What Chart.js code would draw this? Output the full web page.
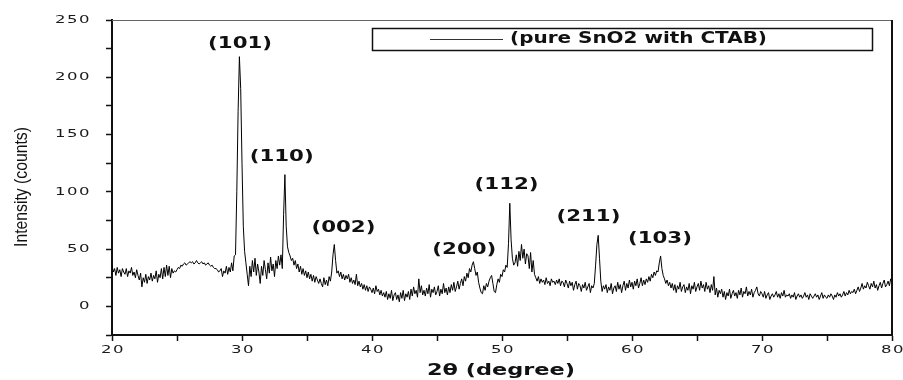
<!DOCTYPE html>
<html>
<head>
<meta charset="utf-8">
<title>XRD pattern</title>
<script src="https://cdn.jsdelivr.net/npm/chart.js@4.4.1/dist/chart.umd.min.js"></script>
<style>
  html, body { margin: 0; padding: 0; background: #fff; }
</style>
</head>
<body>
<canvas id="xrd" width="903" height="380"></canvas>
<script>
// scan: 20..80 deg, 0.1 deg step
const startAngle = 20;
const stepAngle = 0.1;
const intensity = [
  36, 30, 33, 27, 34, 29, 32, 26, 33, 30,   // 20
  28, 33, 26, 31, 29, 34, 27, 30, 25, 32,   // 21
  27, 23, 29, 17, 25, 21, 28, 20, 26, 23,   // 22
  29, 22, 27, 24, 31, 21, 28, 25, 33, 24,   // 23
  34, 26, 36, 27, 35, 25, 33, 29, 31, 30,   // 24
  32, 34, 33, 36, 35, 37, 38, 36, 37, 38,   // 25
  39, 38, 39, 37, 38, 40, 38, 37, 38, 39,   // 26
  37, 38, 36, 37, 38, 36, 35, 36, 34, 33,   // 27
  33, 32, 30, 31, 33, 26, 31, 29, 35, 28,   // 28
  34, 30, 38, 31, 44, 45, 100, 170, 218, 190, // 29
  125, 70, 48, 38, 28, 18, 35, 26, 40, 30,  // 30
  42, 27, 37, 30, 20, 35, 27, 40, 32, 24,   // 31
  38, 29, 43, 31, 37, 26, 40, 33, 44, 36,   // 32
  45, 33, 80, 115, 70, 52, 47, 44, 40, 42,  // 33
  36, 40, 33, 37, 30, 35, 28, 33, 27, 31,   // 34
  25, 30, 24, 28, 22, 27, 21, 26, 23, 20,   // 35
  24, 20, 17, 25, 19, 23, 18, 26, 22, 30,   // 36
  45, 54, 40, 29, 31, 26, 30, 24, 28, 23,   // 37
  27, 24, 28, 21, 25, 20, 23, 19, 28, 18,   // 38
  22, 17, 20, 15, 19, 14, 18, 13, 17, 15,   // 39
  12, 16, 11, 18, 13, 15, 10, 14, 9, 12,    // 40
  8, 13, 6, 11, 7, 14, 5, 10, 12, 6,        // 41
  10, 4, 12, 7, 14, 5, 11, 8, 13, 6,        // 42
  15, 9, 17, 11, 14, 8, 24, 12, 18, 10,     // 43
  14, 9, 16, 11, 19, 8, 15, 12, 17, 10,     // 44
  13, 18, 9, 15, 11, 20, 12, 16, 10, 17,    // 45
  12, 19, 14, 21, 13, 17, 22, 15, 20, 24,   // 46
  18, 26, 22, 29, 25, 33, 30, 36, 39, 33,   // 47
  27, 30, 21, 16, 12, 11, 18, 14, 20, 17,   // 48
  22, 25, 27, 20, 13, 12, 19, 24, 21, 28,   // 49
  26, 32, 30, 36, 34, 55, 90, 58, 42, 36,   // 50
  38, 45, 35, 48, 40, 54, 42, 50, 37, 46,   // 51
  44, 33, 47, 30, 40, 28, 25, 22, 26, 20,   // 52
  24, 21, 23, 19, 25, 20, 22, 18, 24, 21,   // 53
  22, 19, 23, 20, 24, 18, 22, 21, 17, 23,   // 54
  20, 16, 22, 18, 21, 14, 19, 22, 15, 20,   // 55
  18, 13, 19, 16, 21, 14, 17, 20, 12, 18,   // 56
  16, 20, 36, 54, 62, 42, 22, 13, 18, 15,   // 57
  19, 12, 17, 14, 20, 11, 16, 18, 13, 21,   // 58
  15, 19, 12, 18, 22, 14, 20, 16, 23, 17,   // 59
  21, 15, 22, 18, 24, 16, 20, 25, 18, 23,   // 60
  19, 24, 21, 26, 22, 28, 25, 30, 27, 31,   // 61
  30, 38, 44, 33, 27, 24, 20, 23, 18, 21,   // 62
  16, 20, 14, 19, 12, 18, 15, 21, 13, 17,   // 63
  19, 12, 17, 14, 20, 11, 18, 15, 21, 13,   // 64
  17, 20, 14, 22, 16, 19, 13, 21, 15, 18,   // 65
  12, 19, 14, 26, 10, 16, 8, 14, 11, 15,    // 66
  8, 13, 6, 12, 9, 15, 7, 11, 14, 9,        // 67
  12, 7, 14, 10, 16, 8, 13, 11, 17, 9,      // 68
  13, 10, 15, 8, 12, 14, 17, 11, 9, 13,     // 69
  11, 8, 13, 7, 10, 12, 6, 9, 11, 8,        // 70
  10, 13, 8, 11, 7, 12, 9, 14, 8, 10,       // 71
  9, 11, 7, 10, 8, 12, 6, 9, 11, 8,         // 72
  10, 7, 9, 12, 8, 10, 6, 11, 9, 7,         // 73
  9, 11, 8, 10, 6, 9, 12, 7, 10, 8,         // 74
  7, 10, 8, 11, 9, 6, 10, 8, 12, 9,         // 75
  11, 8, 10, 13, 9, 12, 10, 14, 11, 13,     // 76
  12, 15, 11, 14, 17, 13, 16, 20, 15, 18,   // 77
  16, 21, 18, 15, 20, 17, 22, 16, 19, 14,   // 78
  18, 21, 16, 20, 23, 17, 19, 22, 18, 24,   // 79
  21                                        // 80
];

// peak labels (hkl), placed at (2theta, counts)
const peakLabels = ['(101)', '(110)', '(002)', '(200)', '(112)', '(211)', '(103)'];
const peakLabelAngle = [29.85, 33.05, 37.8, 47.1, 50.35, 56.65, 62.15];
const peakLabelCount = [229, 130, 68, 49, 106, 78, 59];

const seriesName = '(pure SnO2 with CTAB)';
const xTitle = '2θ (degree)';
const yTitle = 'Intensity (counts)';

const points = intensity.map((v, i) => ({ x: +(startAngle + i * stepAngle).toFixed(1), y: v }));

// the original uses a very wide face; stretch text horizontally
function wideText(ctx, text, x, y, sx, align) {
  ctx.save();
  ctx.translate(x, y);
  ctx.scale(sx, 1);
  ctx.textAlign = align;
  ctx.fillText(text, 0, 0);
  ctx.restore();
}
function fitText(ctx, text, cx, cy, width) {
  const w = ctx.measureText(text).width;
  wideText(ctx, text, cx, cy, width / w, 'center');
}

const decorations = {
  id: 'decorations',
  afterDraw(chart) {
    const ctx = chart.ctx;
    const area = chart.chartArea;
    const xs = chart.scales.x, ys = chart.scales.y;
    ctx.save();

    // top and right frame
    ctx.strokeStyle = '#666';
    ctx.lineWidth = 1.2;
    ctx.beginPath();
    ctx.moveTo(area.left, area.top + 0.5);
    ctx.lineTo(area.right, area.top + 0.5);
    ctx.stroke();
    ctx.strokeStyle = '#111';
    ctx.lineWidth = 2;
    ctx.beginPath();
    ctx.moveTo(area.right, area.top);
    ctx.lineTo(area.right, area.bottom);
    ctx.stroke();

    // tick labels
    ctx.fillStyle = '#1a1a1a';
    ctx.font = '11px "DejaVu Sans"';
    ctx.letterSpacing = '1px';
    ctx.textBaseline = 'middle';
    xs.ticks.forEach(t => {
      if (t.value % 10 !== 0) return;
      wideText(ctx, String(t.value), xs.getPixelForValue(t.value) + 1, 350, 1.5, 'center');
    });
    ys.ticks.forEach(t => {
      if (t.value % 50 !== 0 || t.value < 0) return;
      wideText(ctx, String(t.value), 91, ys.getPixelForValue(t.value), 1.5, 'right');
    });
    ctx.letterSpacing = '0px';

    // peak labels
    ctx.fillStyle = '#111';
    ctx.font = 'bold 15px "DejaVu Sans"';
    peakLabels.forEach((t, i) => {
      fitText(ctx, t, xs.getPixelForValue(peakLabelAngle[i]), ys.getPixelForValue(peakLabelCount[i]), 64);
    });

    // legend box
    ctx.strokeStyle = '#111';
    ctx.lineWidth = 1.5;
    ctx.strokeRect(372.5, 28.5, 500, 22);
    ctx.strokeStyle = '#333';
    ctx.lineWidth = 1;
    ctx.beginPath();
    ctx.moveTo(430, 39.5);
    ctx.lineTo(503, 39.5);
    ctx.stroke();
    ctx.font = 'bold 15px "DejaVu Sans"';
    fitText(ctx, seriesName, 638.5, 39, 257);

    // axis titles
    ctx.font = 'bold 15px "DejaVu Sans"';
    fitText(ctx, xTitle, 501, 371, 148);

    ctx.font = '18px "Liberation Sans", Arial, sans-serif';
    ctx.translate(22, 187);
    ctx.rotate(-Math.PI / 2);
    fitText(ctx, yTitle, 0, 0, 120);
    ctx.restore();
  }
};

new Chart(document.getElementById('xrd'), {
  type: 'line',
  data: {
    datasets: [{
      label: seriesName,
      data: points,
      borderColor: '#000',
      borderWidth: 1,
      pointRadius: 0,
      tension: 0,
      fill: false
    }]
  },
  options: {
    responsive: false,
    animation: false,
    devicePixelRatio: 1,
    layout: { padding: { top: 20, right: 11, left: 0, bottom: 0 } },
    plugins: {
      legend: { display: false },
      tooltip: { enabled: false }
    },
    scales: {
      x: {
        type: 'linear',
        min: 20,
        max: 80,
        afterFit: s => { s.height = 45; },
        ticks: { stepSize: 5, autoSkip: false, maxRotation: 0, color: 'rgba(0,0,0,0)' },
        grid: { drawOnChartArea: false, drawTicks: true, tickLength: 6, tickColor: '#111', tickWidth: 1.5 },
        border: { display: true, color: '#111', width: 2 }
      },
      y: {
        min: -25,
        max: 250,
        afterFit: s => { s.width = 112; },
        ticks: { stepSize: 25, autoSkip: false, color: 'rgba(0,0,0,0)' },
        grid: { drawOnChartArea: false, drawTicks: true, tickLength: 6, tickColor: '#111', tickWidth: 1.5 },
        border: { display: true, color: '#111', width: 2 }
      }
    }
  },
  plugins: [decorations]
});
</script>
</body>
</html>
